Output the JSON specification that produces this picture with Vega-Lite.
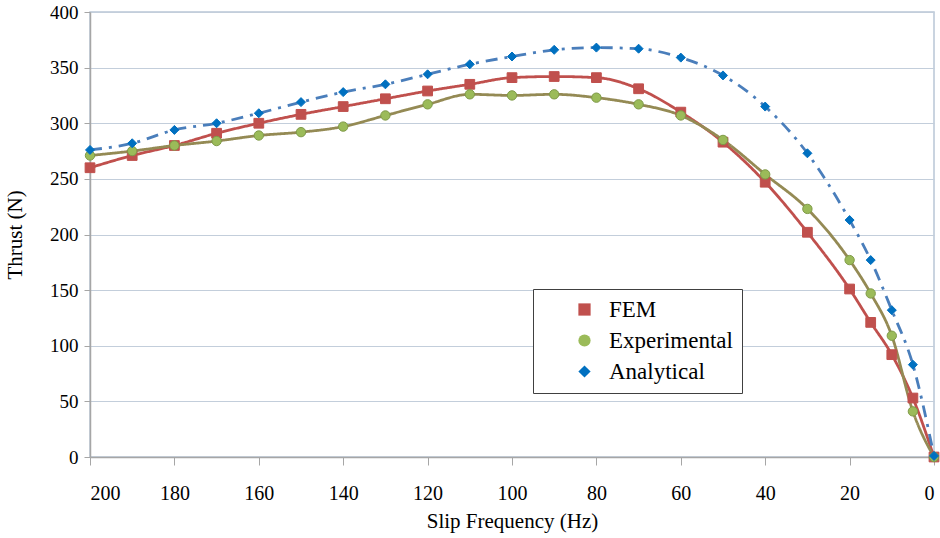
{
  "$schema": "https://vega.github.io/schema/vega-lite/v6.json",
  "width": 844,
  "height": 445,
  "autosize": {"type": "none"},
  "padding": {"left": 90, "top": 12, "right": 6, "bottom": 81},
  "background": "white",
  "config": {
    "font": "Times New Roman",
    "view": {"stroke": "#b9c6d6", "strokeWidth": 1.5},
    "axis": {"labelFont": "Times New Roman", "titleFont": "Times New Roman"},
    "legend": {
      "title": null, "orient": "none", "legendX": 443, "legendY": 277,
      "strokeColor": "#404040", "fillColor": "#fff", "padding": 9,
      "labelFontSize": 23, "labelColor": "#000", "labelFont": "Times New Roman",
      "symbolSize": 150, "symbolStrokeWidth": 2.5, "symbolOffset": 31, "labelOffset": 13,
      "rowPadding": 7
    }
  },
  "data": {
    "values": [
      {"f": 200, "s": "FEM", "t": 260}, {"f": 190, "s": "FEM", "t": 271}, {"f": 180, "s": "FEM", "t": 280},
      {"f": 170, "s": "FEM", "t": 291}, {"f": 160, "s": "FEM", "t": 300}, {"f": 150, "s": "FEM", "t": 308},
      {"f": 140, "s": "FEM", "t": 315}, {"f": 130, "s": "FEM", "t": 322}, {"f": 120, "s": "FEM", "t": 329},
      {"f": 110, "s": "FEM", "t": 335}, {"f": 100, "s": "FEM", "t": 341}, {"f": 90, "s": "FEM", "t": 342},
      {"f": 80, "s": "FEM", "t": 341}, {"f": 70, "s": "FEM", "t": 331}, {"f": 60, "s": "FEM", "t": 310},
      {"f": 50, "s": "FEM", "t": 283}, {"f": 40, "s": "FEM", "t": 247}, {"f": 30, "s": "FEM", "t": 202},
      {"f": 20, "s": "FEM", "t": 151}, {"f": 15, "s": "FEM", "t": 121}, {"f": 10, "s": "FEM", "t": 92},
      {"f": 5, "s": "FEM", "t": 53}, {"f": 0, "s": "FEM", "t": 0},
      {"f": 200, "s": "Experimental", "t": 271}, {"f": 190, "s": "Experimental", "t": 275}, {"f": 180, "s": "Experimental", "t": 280},
      {"f": 170, "s": "Experimental", "t": 284}, {"f": 160, "s": "Experimental", "t": 289}, {"f": 150, "s": "Experimental", "t": 292},
      {"f": 140, "s": "Experimental", "t": 297}, {"f": 130, "s": "Experimental", "t": 307}, {"f": 120, "s": "Experimental", "t": 317},
      {"f": 110, "s": "Experimental", "t": 326}, {"f": 100, "s": "Experimental", "t": 325}, {"f": 90, "s": "Experimental", "t": 326},
      {"f": 80, "s": "Experimental", "t": 323}, {"f": 70, "s": "Experimental", "t": 317}, {"f": 60, "s": "Experimental", "t": 307},
      {"f": 50, "s": "Experimental", "t": 285}, {"f": 40, "s": "Experimental", "t": 254}, {"f": 30, "s": "Experimental", "t": 223},
      {"f": 20, "s": "Experimental", "t": 177}, {"f": 15, "s": "Experimental", "t": 147}, {"f": 10, "s": "Experimental", "t": 109},
      {"f": 5, "s": "Experimental", "t": 41}, {"f": 0, "s": "Experimental", "t": 0},
      {"f": 200, "s": "Analytical", "t": 276}, {"f": 190, "s": "Analytical", "t": 282}, {"f": 180, "s": "Analytical", "t": 294},
      {"f": 170, "s": "Analytical", "t": 300}, {"f": 160, "s": "Analytical", "t": 309}, {"f": 150, "s": "Analytical", "t": 319},
      {"f": 140, "s": "Analytical", "t": 328}, {"f": 130, "s": "Analytical", "t": 335}, {"f": 120, "s": "Analytical", "t": 344},
      {"f": 110, "s": "Analytical", "t": 353}, {"f": 100, "s": "Analytical", "t": 360}, {"f": 90, "s": "Analytical", "t": 366},
      {"f": 80, "s": "Analytical", "t": 368}, {"f": 70, "s": "Analytical", "t": 367}, {"f": 60, "s": "Analytical", "t": 359},
      {"f": 50, "s": "Analytical", "t": 343}, {"f": 40, "s": "Analytical", "t": 315}, {"f": 30, "s": "Analytical", "t": 273},
      {"f": 20, "s": "Analytical", "t": 213}, {"f": 15, "s": "Analytical", "t": 177}, {"f": 10, "s": "Analytical", "t": 132},
      {"f": 5, "s": "Analytical", "t": 83}, {"f": 0, "s": "Analytical", "t": 1}
    ]
  },
  "encoding": {
    "x": {
      "field": "f", "type": "quantitative",
      "scale": {"domain": [0, 200], "reverse": true, "nice": false},
      "axis": {
        "title": "Slip Frequency (Hz)", "values": [0, 20, 40, 60, 80, 100, 120, 140, 160, 180, 200],
        "grid": false, "domainColor": "#a6a6a6", "domainWidth": 1.5, "tickColor": "#a6a6a6", "tickSize": 8,
        "labelFontSize": 20, "labelColor": "#000", "labelPadding": 18,
        "titleFontSize": 21, "titleFontWeight": "normal", "titleColor": "#000", "titlePadding": 7
      }
    },
    "y": {
      "field": "t", "type": "quantitative",
      "scale": {"domain": [0, 400], "nice": false},
      "axis": {
        "title": "Thrust (N)", "values": [0, 50, 100, 150, 200, 250, 300, 350, 400],
        "grid": true, "gridColor": "#c3cedb", "gridWidth": 1, "domainColor": "#a6a6a6", "domainWidth": 1.5,
        "tickColor": "#a6a6a6", "tickSize": 6,
        "labelFontSize": 19, "labelColor": "#000", "labelPadding": 6,
        "titleFontSize": 21, "titleFontWeight": "normal", "titleColor": "#000", "titlePadding": 24
      }
    }
  },
  "layer": [
    {
      "mark": {"type": "line", "interpolate": "monotone", "strokeWidth": 2.8},
      "encoding": {
        "stroke": {
          "field": "s", "type": "nominal",
          "scale": {"range": ["#4a7ebb", "#948a54", "#c0504d"]},
          "legend": null
        },
        "strokeDash": {
          "field": "s", "type": "nominal",
          "scale": {"range": [[12, 7, 3, 7], [1, 0], [1, 0]]},
          "legend": null
        }
      }
    },
    {
      "mark": {"type": "point", "filled": true, "opacity": 1, "strokeWidth": 1},
      "encoding": {
        "fill": {
          "field": "s", "type": "nominal",
          "scale": {"domain": ["FEM", "Experimental", "Analytical"], "range": ["#c0504d", "#9bbb59", "#0070c0"]}
        },
        "shape": {
          "field": "s", "type": "nominal",
          "scale": {"domain": ["FEM", "Experimental", "Analytical"], "range": ["square", "circle", "diamond"]}
        },
        "stroke": {
          "field": "s", "type": "nominal",
          "scale": {"range": ["#0070c0", "#7f9a48", "#c0504d"]},
          "legend": null
        },
        "size": {
          "field": "s", "type": "nominal",
          "scale": {"range": [81, 95, 144]},
          "legend": null
        }
      }
    }
  ],
  "resolve": {"scale": {"stroke": "independent"}}
}
